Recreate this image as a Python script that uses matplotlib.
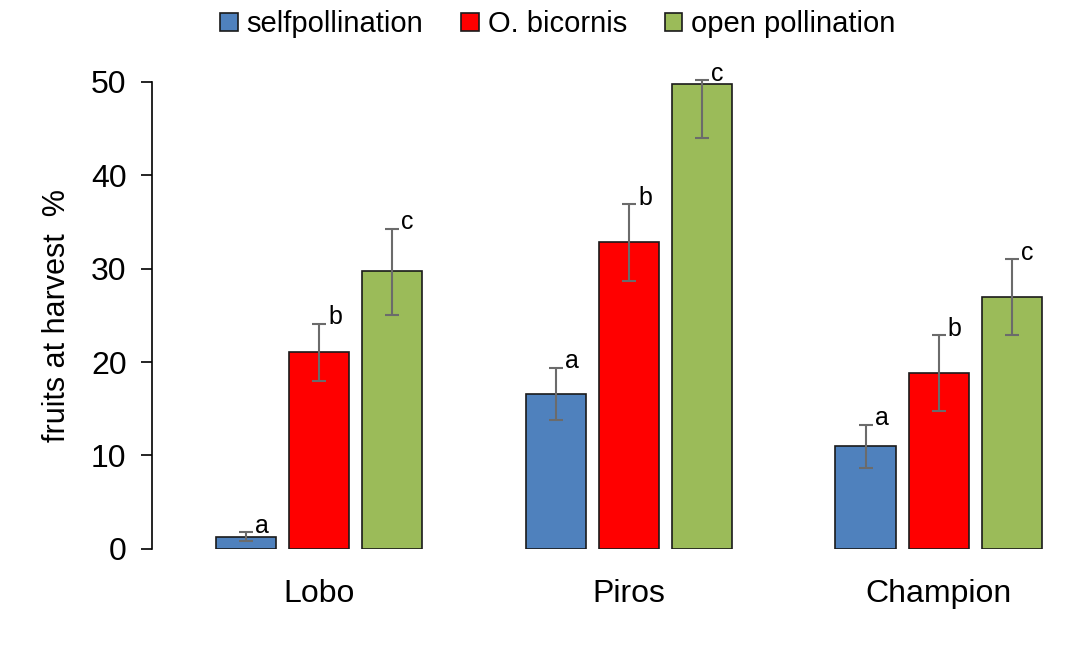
import matplotlib
matplotlib.use("Agg")
import matplotlib.pyplot as plt
import numpy as np

plt.rcParams['font.family'] = ['Liberation Sans', 'DejaVu Sans']

cultivars = ["Lobo", "Piros", "Champion"]
series = ["selfpollination", "O. bicornis", "open pollination"]
values = [[1.3, 16.6, 11.0], [21.1, 32.9, 18.8], [29.8, 49.8, 27.0]]
err_low = [[0.5, 2.8, 2.3], [3.1, 4.2, 4.0], [4.8, 5.8, 4.1]]
err_high = [[0.5, 2.8, 2.3], [3.0, 4.0, 4.1], [4.5, 0.4, 4.0]]
letters = ["a", "b", "c"]
colors = ["#4F81BD", "#FF0000", "#9BBB59"]

fig = plt.figure(figsize=(10.75, 6.45), dpi=100)
ax = fig.add_axes([0.141, 0.149, 0.859, 0.724])
x = np.arange(len(cultivars))
w = 0.194
off = 0.236
for i in range(3):
    xs = x + (i - 1) * off
    ax.bar(xs, values[i], width=w, color=colors[i], edgecolor="#1a1a1a", linewidth=1.2,
           label=series[i], zorder=2)
    ax.errorbar(xs, values[i], yerr=[err_low[i], err_high[i]], fmt="none",
                ecolor="#6b6b6b", elinewidth=1.5, capsize=5, capthick=1.5, zorder=3, clip_on=False)
    for j in range(3):
        ax.text(xs[j] + 0.03, values[i][j] + err_high[i][j] - 0.6, letters[i],
                fontsize=18, ha="left", va="bottom")

ax.set_xlim(-0.54, 2.44)
ax.set_ylim(0, 50)
ax.set_yticks([0, 10, 20, 30, 40, 50])
ax.tick_params(axis="y", labelsize=23, length=8, width=1.2, direction="out", pad=10)
ax.tick_params(axis="x", labelsize=23, length=0, pad=22)
ax.set_xticks(x)
ax.set_xticklabels(cultivars)
for s in ["top", "right", "bottom"]:
    ax.spines[s].set_visible(False)
ax.spines["left"].set_linewidth(1.2)
ax.set_ylabel("fruits at harvest  %", fontsize=22, labelpad=14)
ax.legend(loc="upper center", bbox_to_anchor=(0.44, 1.21), ncol=3, frameon=False,
          fontsize=21, handlelength=0.6, handleheight=0.6, handletextpad=0.3, columnspacing=1.3)
fig.savefig("out.png", dpi=100)
